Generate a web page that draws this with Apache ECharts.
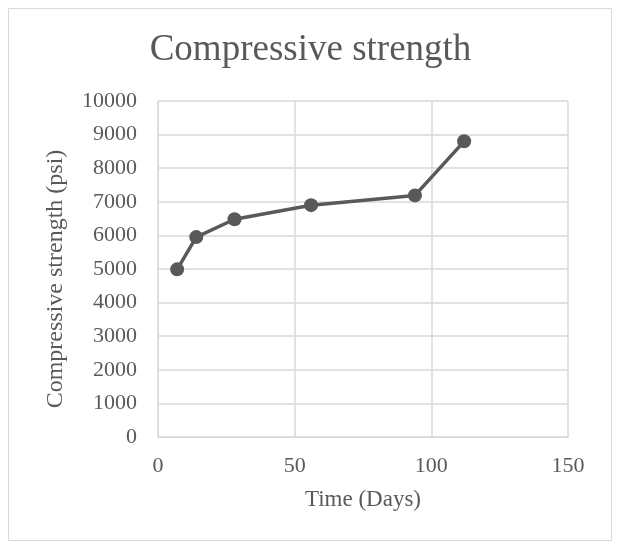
<!DOCTYPE html>
<html><head><meta charset="utf-8">
<script src="https://cdn.jsdelivr.net/npm/echarts@6/dist/echarts.min.js"></script>
<style>html,body{margin:0;padding:0;background:#fff}#c{width:621px;height:550px}</style>
</head><body><div id="c"></div>
<script>
const days = [7, 14, 28, 56, 94, 112];
const strength = [4990, 5950, 6480, 6900, 7190, 8800];
const xTicks = [0, 50, 100, 150];
const yTicks = [0,1000,2000,3000,4000,5000,6000,7000,8000,9000,10000];

const chart = echarts.init(document.getElementById('c'), null, {renderer:'canvas'});
const font = '"Liberation Serif", "Times New Roman", serif';
chart.setOption({
  animation: false,
  backgroundColor: '#fff',
  graphic: [{type:'rect', shape:{x:8.5,y:8.5,width:603,height:532}, style:{fill:'none', stroke:'#d9d9d9', lineWidth:1}, silent:true}],
  title: {text:'Compressive strength', left:'center', top:27, textStyle:{fontFamily:font, fontSize:37, fontWeight:'normal', color:'#595959'}},
  grid: {left:158, right:53, top:101, bottom:113},
  xAxis: {type:'value', min:xTicks[0], max:xTicks[xTicks.length-1], interval:50,
    name:'Time (Days)', nameLocation:'middle', nameGap:51,
    nameTextStyle:{fontFamily:font, fontSize:23, color:'#595959'},
    axisLine:{show:true, lineStyle:{color:'#d9d9d9', width:1}}, axisTick:{show:false},
    axisLabel:{fontFamily:font, fontSize:22, color:'#595959', margin:18},
    splitLine:{show:true, lineStyle:{color:'#d9d9d9', width:1.5}}},
  yAxis: {type:'value', min:yTicks[0], max:yTicks[yTicks.length-1], interval:1000,
    name:'Compressive strength (psi)', nameLocation:'middle', nameGap:90, nameRotate:90,
    nameTextStyle:{fontFamily:font, fontSize:24, color:'#595959', padding:[0,20,0,0]},
    axisLine:{show:true, lineStyle:{color:'#d9d9d9', width:1}}, axisTick:{show:false},
    axisLabel:{fontFamily:font, fontSize:22, color:'#595959', margin:21, formatter: v => String(v)},
    splitLine:{show:true, lineStyle:{color:'#d9d9d9', width:1.5}}},
  series: [{type:'line', data: days.map((d,i)=>[d, strength[i]]),
    symbol:'circle', symbolSize:14,
    lineStyle:{color:'#595959', width:3.5}, itemStyle:{color:'#595959'}}]
});
</script></body></html>
